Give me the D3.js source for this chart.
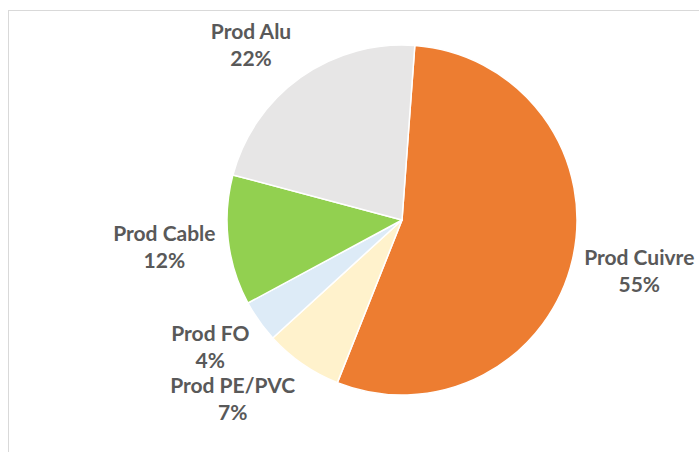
<!DOCTYPE html>
<html>
<head>
<meta charset="utf-8">
<script src="https://cdn.jsdelivr.net/npm/d3@7"></script>
<style>
  html, body { margin: 0; padding: 0; background: #fff; }
  svg { display: block; }
</style>
</head>
<body>
<div id="chart"></div>
<script>
// slices, clockwise from the top
var categories = ['Prod Cuivre', 'Prod PE/PVC', 'Prod FO', 'Prod Cable', 'Prod Alu'];
var values = [54.8, 7.2, 3.9, 12.0, 22.0];
var percentLabels = ['55%', '7%', '4%', '12%', '22%'];
var colors = ['#ED7D31', '#FFF2CC', '#DDEBF7', '#92D050', '#E7E6E6'];

var width = 699, height = 452;
var cx = 402, cy = 220, radius = 175;
var firstAngle = 4.2 * Math.PI / 180;

// label nudges from the outer label arc
var labelNudge = [[7, -3], [-35, -16], [1, -11], [-3, -2], [-14, 16]];

var svg = d3.select('#chart').append('svg')
    .attr('width', width)
    .attr('height', height);

// chart area border
svg.append('rect')
    .attr('x', 8.5)
    .attr('y', 10.5)
    .attr('width', width + 10)
    .attr('height', height + 10)
    .attr('fill', '#fff')
    .attr('stroke', '#d9d9d9')
    .attr('stroke-width', 1);

var pie = d3.pie()
    .sort(null)
    .startAngle(firstAngle)
    .endAngle(firstAngle + 2 * Math.PI)
    .value(function (d) { return d; });

var arcs = pie(values);

var arc = d3.arc().innerRadius(0).outerRadius(radius);
var labelArc = d3.arc().innerRadius(radius * 1.35).outerRadius(radius * 1.35);

var g = svg.append('g')
    .attr('transform', 'translate(' + cx + ',' + cy + ')');

g.selectAll('path.slice')
    .data(arcs)
    .enter().append('path')
    .attr('class', 'slice')
    .attr('d', arc)
    .attr('fill', function (d, i) { return colors[i]; })
    .attr('stroke', '#fff')
    .attr('stroke-width', 1.5)
    .attr('stroke-linejoin', 'round');

var labels = g.selectAll('text.label')
    .data(arcs)
    .enter().append('text')
    .attr('class', 'label')
    .attr('text-anchor', 'middle')
    .attr('font-family', 'Lato, "Open Sans", sans-serif')
    .attr('font-weight', 700)
    .attr('font-size', 21)
    .attr('fill', '#595959')
    .attr('transform', function (d, i) {
        var c = labelArc.centroid(d);
        return 'translate(' + (c[0] + labelNudge[i][0]) + ',' + (c[1] + labelNudge[i][1]) + ')';
    });

labels.append('tspan')
    .attr('x', 0)
    .attr('y', -5)
    .text(function (d, i) { return categories[i]; });

labels.append('tspan')
    .attr('x', 0)
    .attr('y', 22)
    .text(function (d, i) { return percentLabels[i]; });
</script>
</body>
</html>
